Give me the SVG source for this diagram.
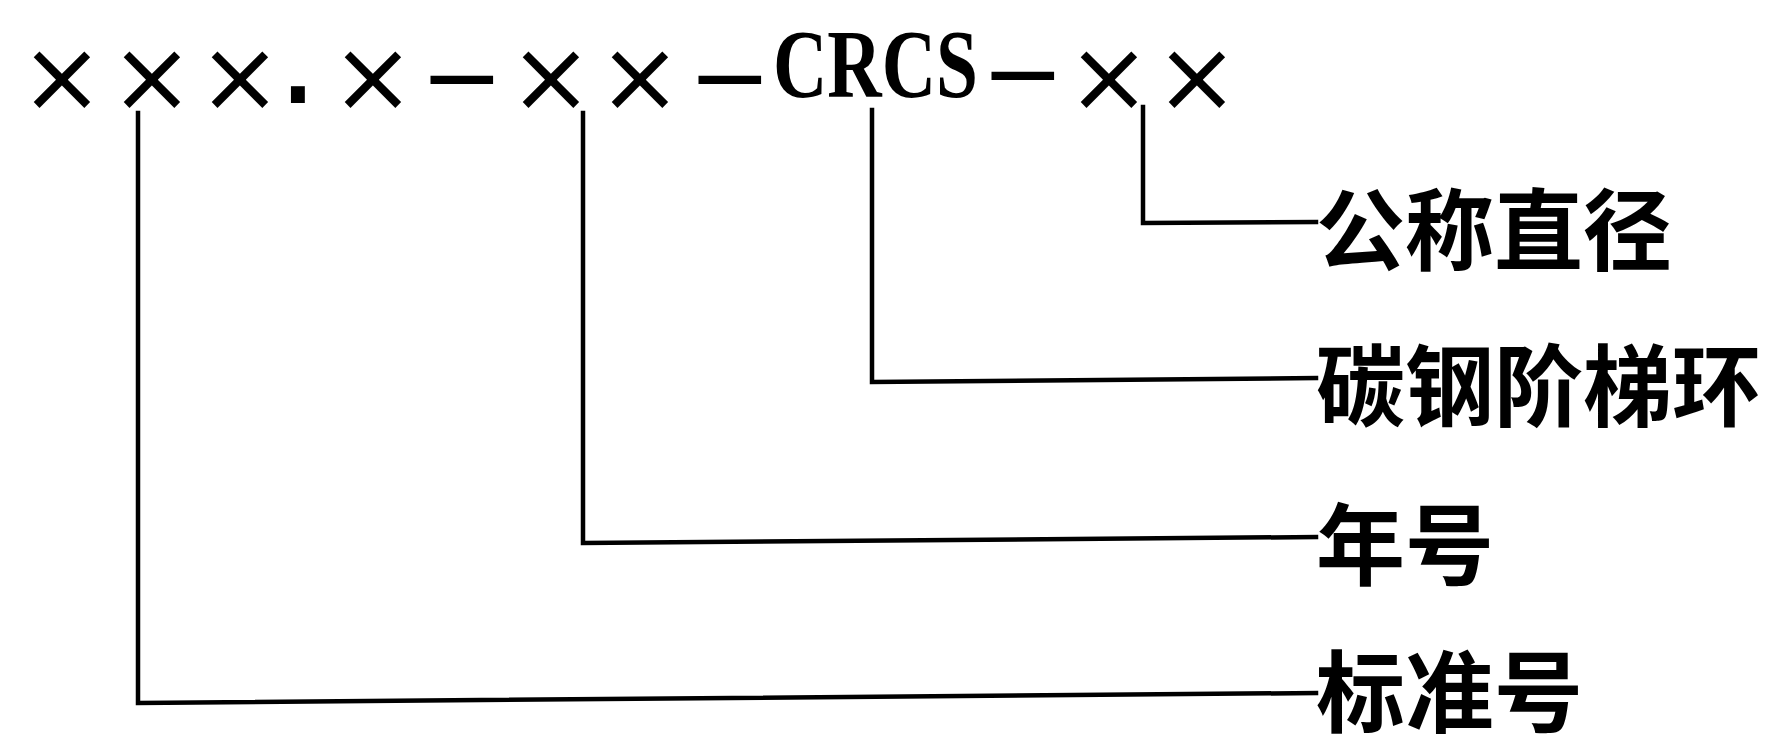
<svg xmlns="http://www.w3.org/2000/svg" width="1766" height="734" viewBox="0 0 1766 734">
  <style>
    .sym { font-family: "DejaVu Sans", sans-serif; font-size: 100px; fill: #000; }
    .dot { font-size: 135px; }
    .crcs { font-family: "Liberation Serif", serif; font-weight: bold; font-size: 98px; fill: #000; }
    .lbl { font-family: "Noto Sans CJK SC", "Noto Sans", sans-serif; font-weight: bold; font-size: 89px; fill: #000; dominant-baseline: central; }
    .conn { fill: none; stroke: #000; stroke-width: 4.5; stroke-linejoin: miter; stroke-linecap: square; }
  </style>
  <rect width="1766" height="734" fill="#fff"/>

  <g id="code">
    <text class="sym" y="111" text-anchor="middle"><tspan x="62">×</tspan><tspan x="152">×</tspan><tspan x="240">×</tspan><tspan class="dot" x="298" y="103">.</tspan><tspan x="373" y="111">×</tspan><tspan x="462">−</tspan><tspan x="551">×</tspan><tspan x="640">×</tspan><tspan x="730">−</tspan></text>
    <text class="crcs" x="773" y="97" textLength="205" lengthAdjust="spacingAndGlyphs">CRCS</text>
    <text class="sym" y="107" text-anchor="middle"><tspan x="1023">−</tspan><tspan x="1109" y="111">×</tspan><tspan x="1197">×</tspan></text>
  </g>

  <g id="connectors">
    <polyline class="conn" points="1143,107 1143,223 1316,222"/>
    <polyline class="conn" points="872,110 872,382 1316,378"/>
    <polyline class="conn" points="583,113 583,543 1316,537"/>
    <polyline class="conn" points="138,113 138,703 1316,693"/>
  </g>

  <g id="label-diameter"><text class="lbl" x="1316" y="224">公称直径</text></g>
  <g id="label-material"><text class="lbl" x="1316" y="380">碳钢阶梯环</text></g>
  <g id="label-year"><text class="lbl" x="1316" y="539">年号</text></g>
  <g id="label-standard"><text class="lbl" x="1316" y="686">标准号</text></g>
</svg>
